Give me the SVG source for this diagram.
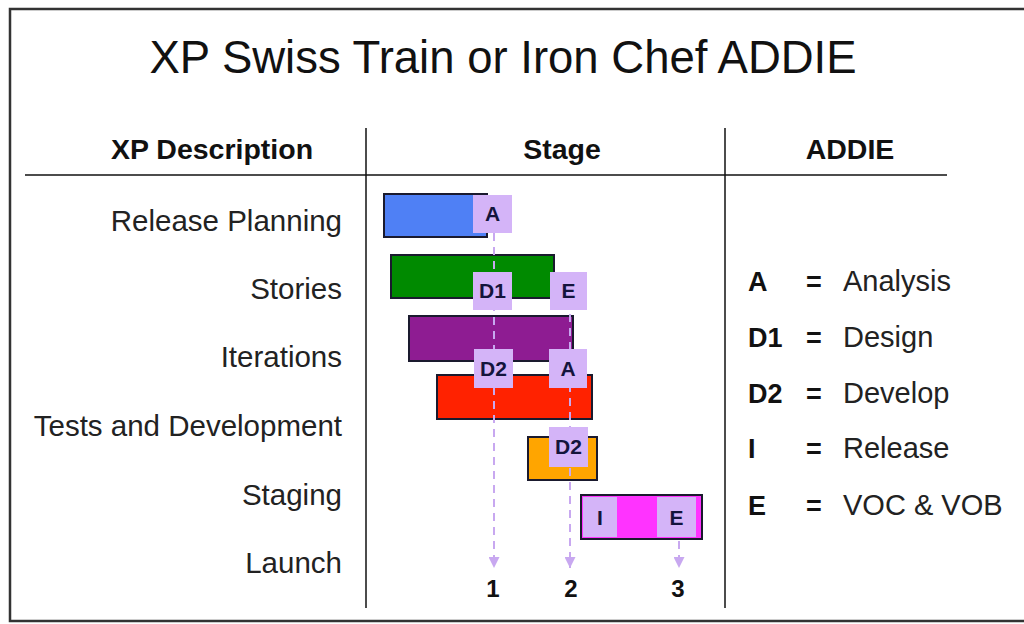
<svg xmlns="http://www.w3.org/2000/svg" width="1024" height="624" viewBox="0 0 1024 624">
<style>
text{font-family:"Liberation Sans",Arial,sans-serif;fill:#111}
.title{font-size:45.5px}
.hdr{font-size:28.5px;font-weight:bold;text-anchor:middle}
.lbl{font-size:29.5px;text-anchor:end;fill:#222}
.bar{stroke:#1a1a2e;stroke-width:2}
.tag{fill:#d4b4f8}
.tagt{font-size:21px;font-weight:bold;text-anchor:middle;fill:#14143c}
.key{font-size:27px;font-weight:bold}
.desc{font-size:29px;fill:#222}
.num{font-size:24px;font-weight:bold;text-anchor:middle}
.grid{stroke:#111;stroke-width:1.5}
.dash{stroke:#c8a8f0;stroke-width:2;stroke-dasharray:8 6;fill:none}
</style>
<defs>
<marker id="arr" markerWidth="11" markerHeight="11" refX="10" refY="5" orient="auto" markerUnits="userSpaceOnUse" viewBox="0 0 10 10">
<path d="M0,0 L10,5 L0,10 Z" fill="#c8a8f0"/>
</marker>
</defs>
<rect x="10" y="9" width="1030" height="612" fill="#fff" stroke="#333" stroke-width="2.5"/>
<text class="title" x="503" y="73" text-anchor="middle">XP Swiss Train or Iron Chef ADDIE</text>
<g id="headers">
<text class="hdr" x="212" y="159">XP Description</text>
<text class="hdr" x="562" y="159">Stage</text>
<text class="hdr" x="850" y="159">ADDIE</text>
<line class="grid" x1="25" y1="175" x2="947" y2="175"/>
<line class="grid" x1="366" y1="128" x2="366" y2="608"/>
<line class="grid" x1="725" y1="128" x2="725" y2="608"/>
</g>
<g id="labels">
<text class="lbl" x="342" y="231">Release Planning</text>
<text class="lbl" x="342" y="299">Stories</text>
<text class="lbl" x="342" y="367">Iterations</text>
<text class="lbl" x="342" y="436">Tests and Development</text>
<text class="lbl" x="342" y="505">Staging</text>
<text class="lbl" x="342" y="573">Launch</text>
</g>
<g id="bars">
<rect id="bar-release" class="bar" x="384" y="194" width="103" height="43" fill="#4f80f5"/>
<rect id="bar-stories" class="bar" x="391" y="255" width="163" height="43" fill="#008a00"/>
<rect id="bar-iterations" class="bar" x="409" y="316" width="164" height="45" fill="#8e1c92"/>
<rect id="bar-tests" class="bar" x="437" y="375" width="155" height="44" fill="#ff2200"/>
<rect id="bar-staging" class="bar" x="528" y="437" width="69" height="43" fill="#ffa500"/>
<rect id="bar-launch" class="bar" x="581" y="495" width="121" height="44" fill="#ff33ff"/>
</g>
<g id="connectors">
<line class="dash" x1="494" y1="233" x2="494" y2="568" marker-end="url(#arr)"/>
<line class="dash" x1="570" y1="272" x2="570" y2="568" marker-end="url(#arr)"/>
<line class="dash" x1="679" y1="541" x2="679" y2="568" marker-end="url(#arr)"/>
</g>
<g id="tags">
<g id="tag-a1"><rect class="tag" x="473" y="195" width="39" height="38"/><text class="tagt" x="492.5" y="221">A</text></g>
<g id="tag-d1"><rect class="tag" x="473" y="272" width="39" height="38"/><text class="tagt" x="492.5" y="298">D1</text></g>
<g id="tag-e1"><rect class="tag" x="550" y="272" width="37" height="38"/><text class="tagt" x="568.5" y="298">E</text></g>
<g id="tag-d2a"><rect class="tag" x="474" y="349" width="39" height="39"/><text class="tagt" x="493.5" y="376">D2</text></g>
<g id="tag-a2"><rect class="tag" x="549" y="349" width="38" height="39"/><text class="tagt" x="568" y="376">A</text></g>
<g id="tag-d2b"><rect class="tag" x="549" y="427" width="39" height="40"/><text class="tagt" x="568.5" y="454">D2</text></g>
<g id="tag-i"><rect class="tag" x="583" y="497" width="34" height="40"/><text class="tagt" x="600" y="525">I</text></g>
<g id="tag-e2"><rect class="tag" x="657" y="497" width="39" height="40"/><text class="tagt" x="676.5" y="525">E</text></g>
</g>
<g id="numbers">
<text class="num" x="493" y="597">1</text>
<text class="num" x="571" y="597">2</text>
<text class="num" x="678" y="597">3</text>
</g>
<g id="legend">
<text class="key" x="748" y="291">A</text><text class="key" x="806" y="291">=</text><text class="desc" x="843" y="291">Analysis</text>
<text class="key" x="748" y="347">D1</text><text class="key" x="806" y="347">=</text><text class="desc" x="843" y="347">Design</text>
<text class="key" x="748" y="403">D2</text><text class="key" x="806" y="403">=</text><text class="desc" x="843" y="403">Develop</text>
<text class="key" x="748" y="458">I</text><text class="key" x="806" y="458">=</text><text class="desc" x="843" y="458">Release</text>
<text class="key" x="748" y="515">E</text><text class="key" x="806" y="515">=</text><text class="desc" x="843" y="515">VOC &amp; VOB</text>
</g>
</svg>
